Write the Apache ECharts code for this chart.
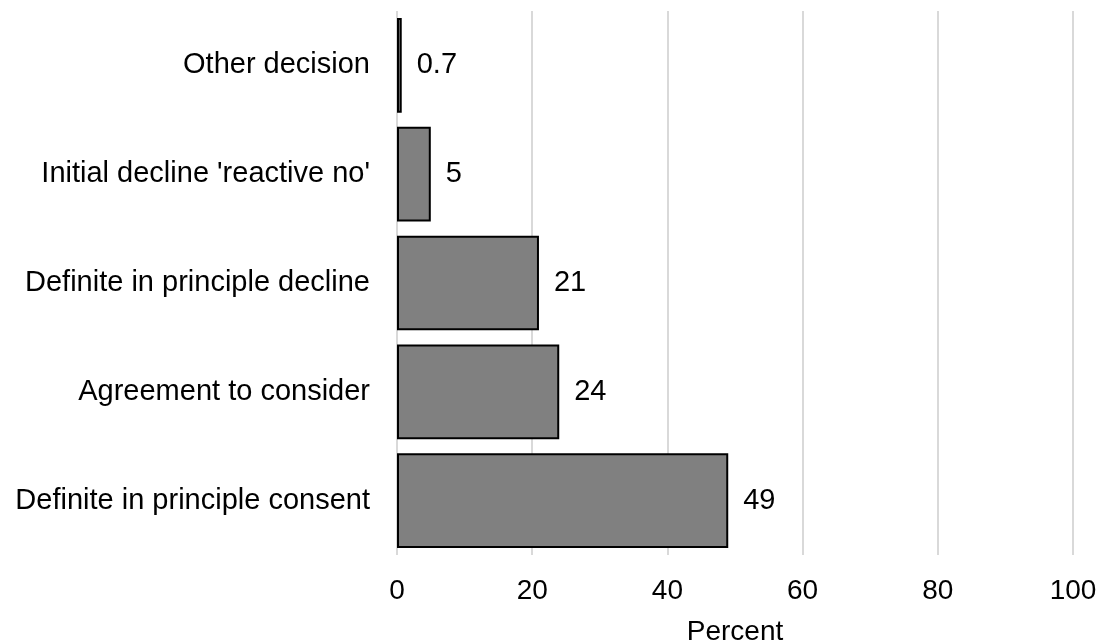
<!DOCTYPE html>
<html>
<head>
<meta charset="utf-8">
<script src="https://cdn.jsdelivr.net/npm/echarts@6/dist/echarts.min.js"></script>
<style>
  html, body { margin: 0; padding: 0; background: #fff; }
  #chart { width: 1108px; height: 643px; }
</style>
</head>
<body>
<div id="chart"></div>
<script>
// Decision outcomes (percent), listed bottom to top
const categories = [
  'Definite in principle consent',
  'Agreement to consider',
  'Definite in principle decline',
  "Initial decline 'reactive no'",
  'Other decision'
];
const percentValues = [49, 24, 21, 5, 0.7];
const valueLabels = ['49', '24', '21', '5', '0.7'];
const xTicks = [0, 20, 40, 60, 80, 100];

const FONT = '"Liberation Sans", Arial, sans-serif';
const chart = echarts.init(document.getElementById('chart'), null, { renderer: 'canvas' });

chart.setOption({
  animation: false,
  backgroundColor: '#ffffff',
  grid: {
    left: 397, right: 35, top: 11, bottom: 88,
    containLabel: false,
    outerBoundsMode: 'none'
  },
  xAxis: {
    type: 'value',
    min: xTicks[0],
    max: xTicks[xTicks.length - 1],
    interval: 20,
    name: 'Percent',
    nameLocation: 'middle',
    nameGap: 63,
    nameTextStyle: { color: '#000', fontSize: 28, fontFamily: FONT },
    axisLine: { show: false },
    axisTick: { show: false },
    axisLabel: { color: '#000', fontSize: 28, fontFamily: FONT, margin: 22 },
    splitLine: { show: true, lineStyle: { color: '#d9d9d9', width: 2 } }
  },
  yAxis: {
    type: 'category',
    data: categories,
    axisLine: { show: false },
    axisTick: { show: false },
    axisLabel: { color: '#000', fontSize: 29, fontFamily: FONT, margin: 27 },
    splitLine: { show: false }
  },
  series: [{
    type: 'bar',
    data: percentValues.map((v, i) => ({ value: v, labelText: valueLabels[i] })),
    barCategoryGap: '13%',
    itemStyle: { color: '#808080', borderColor: '#000', borderWidth: 2 },
    label: {
      show: true,
      position: 'right',
      distance: 15,
      color: '#000',
      fontSize: 29,
      fontFamily: FONT,
      formatter: p => p.data.labelText
    }
  }]
});
</script>
</body>
</html>
